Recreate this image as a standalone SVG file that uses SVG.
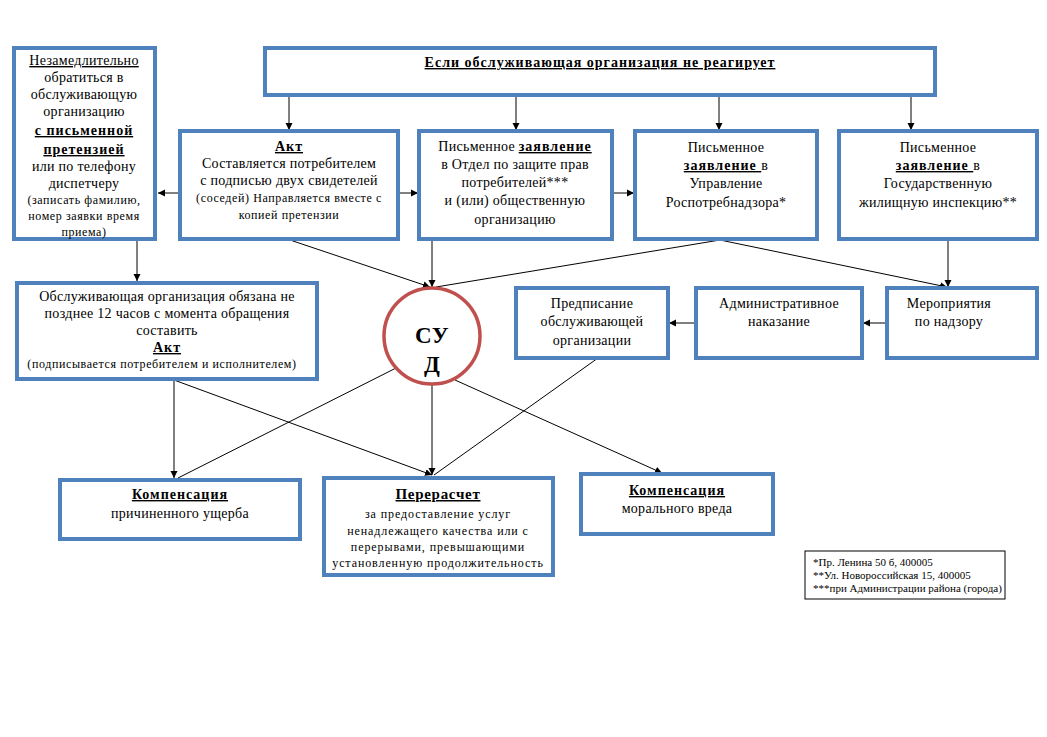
<svg xmlns="http://www.w3.org/2000/svg" width="1047" height="737" viewBox="0 0 1047 737">
<defs>
<marker id="ah" markerWidth="8" markerHeight="8" refX="7" refY="4" orient="auto" markerUnits="userSpaceOnUse">
<path d="M0,0.5 L7,4 L0,7.5 Z" fill="#000"/>
</marker>
<style>
.box{fill:#fff;stroke:#4F81BD;stroke-width:4}
.t{font-family:"Liberation Serif","Times New Roman","DejaVu Serif",serif;font-size:14px;letter-spacing:0.3px;fill:#000;text-anchor:middle}
.s{font-size:12px;letter-spacing:0.6px}
.b{font-weight:bold;text-decoration:underline;letter-spacing:1px}
.u{text-decoration:underline}
.c line{stroke:#000;stroke-width:1}
</style>
</defs>
<rect width="1047" height="737" fill="#fff"/>

<g class="c" id="connectors">
<line x1="289" y1="96" x2="289" y2="130" marker-end="url(#ah)"/>
<line x1="516" y1="96" x2="516" y2="130" marker-end="url(#ah)"/>
<line x1="719" y1="96" x2="719" y2="130" marker-end="url(#ah)"/>
<line x1="911" y1="96" x2="911" y2="130" marker-end="url(#ah)"/>
<line x1="180" y1="193" x2="158" y2="193" marker-end="url(#ah)"/>
<line x1="398" y1="193" x2="418" y2="193" marker-end="url(#ah)"/>
<line x1="612" y1="193" x2="634" y2="193" marker-end="url(#ah)"/>
<line x1="137" y1="240" x2="137" y2="281" marker-end="url(#ah)"/>
<line x1="290" y1="240" x2="430" y2="287" marker-end="url(#ah)"/>
<line x1="432" y1="240" x2="432" y2="287" marker-end="url(#ah)"/>
<line x1="720" y1="240" x2="436" y2="287"/>
<line x1="720" y1="240" x2="947" y2="287" marker-end="url(#ah)"/>
<line x1="948" y1="240" x2="948" y2="287" marker-end="url(#ah)"/>
<line x1="887" y1="323" x2="863" y2="323" marker-end="url(#ah)"/>
<line x1="696" y1="323" x2="669" y2="323" marker-end="url(#ah)"/>
<line x1="174" y1="380" x2="174" y2="478" marker-end="url(#ah)"/>
<line x1="174" y1="380" x2="432" y2="475" marker-end="url(#ah)"/>
<line x1="400" y1="366" x2="178" y2="478"/>
<line x1="432" y1="384" x2="432" y2="475" marker-end="url(#ah)"/>
<line x1="455" y1="380" x2="662" y2="473" marker-end="url(#ah)"/>
<line x1="598" y1="358" x2="434" y2="475"/>
</g>

<g id="n-left">
<rect class="box" x="14" y="48" width="141" height="191"/>
<text class="t" x="84" y="65"><tspan class="u">Незамедлительно</tspan></text>
<text class="t" x="84" y="82">обратиться в</text>
<text class="t" x="84" y="99">обслуживающую</text>
<text class="t" x="84" y="116">организацию</text>
<text class="t b" x="84" y="135">с письменной</text>
<text class="t b" x="84" y="154">претензией </text>
<text class="t" x="84" y="171">или по телефону</text>
<text class="t" x="84" y="188">диспетчеру</text>
<text class="t s" x="84" y="204">(записать фамилию,</text>
<text class="t s" x="84" y="220">номер заявки время</text>
<text class="t s" x="84" y="236">приема)</text>
</g>

<g id="n-banner">
<rect class="box" x="265" y="48" width="670" height="47"/>
<text class="t b" x="600" y="67">Если обслуживающая организация не реагирует</text>
</g>

<g id="n-act">
<rect class="box" x="180" y="131" width="218" height="108"/>
<text class="t b" x="289" y="151">Акт </text>
<text class="t" x="289" y="168">Составляется потребителем</text>
<text class="t" x="289" y="185">с подписью двух свидетелей</text>
<text class="t s" x="289" y="202">(соседей) Направляется вместе с</text>
<text class="t s" x="289" y="219">копией претензии</text>
</g>

<g id="n-otdel">
<rect class="box" x="419" y="131" width="193" height="108"/>
<text class="t" x="515" y="151">Письменное <tspan class="b">заявление</tspan></text>
<text class="t" x="515" y="169">в Отдел по защите прав</text>
<text class="t" x="515" y="187">потребителей***</text>
<text class="t" x="515" y="205">и (или) общественную</text>
<text class="t" x="515" y="224">организацию</text>
</g>

<g id="n-rpn">
<rect class="box" x="635" y="131" width="182" height="108"/>
<text class="t" x="726" y="152">Письменное</text>
<text class="t" x="726" y="170"><tspan class="b">заявление </tspan>в</text>
<text class="t" x="726" y="188">Управление</text>
<text class="t" x="726" y="207">Роспотребнадзора*</text>
</g>

<g id="n-gzhi">
<rect class="box" x="839" y="131" width="198" height="108"/>
<text class="t" x="938" y="152">Письменное</text>
<text class="t" x="938" y="170"><tspan class="b">заявление </tspan>в</text>
<text class="t" x="938" y="188">Государственную</text>
<text class="t" x="938" y="207">жилищную инспекцию**</text>
</g>

<g id="n-obsl">
<rect class="box" x="17" y="283" width="300" height="96"/>
<text class="t" x="167" y="301">Обслуживающая организация обязана не</text>
<text class="t" x="167" y="318">позднее 12 часов с момента обращения</text>
<text class="t" x="167" y="335">составить</text>
<text class="t b" x="167" y="352">Акт</text>
<text class="t s" x="162" y="368">(подписывается потребителем и исполнителем)</text>
</g>

<g id="n-sud">
<circle cx="432" cy="336" r="48" fill="#fff" stroke="#C0504D" stroke-width="3.5"/>
<text class="t" x="432" y="343" style="font-size:23px;font-weight:bold">СУ</text>
<text class="t" x="432" y="372" style="font-size:23px;font-weight:bold">Д</text>
</g>

<g id="n-predp">
<rect class="box" x="516" y="288" width="152" height="70"/>
<text class="t" x="592" y="308">Предписание</text>
<text class="t" x="592" y="326">обслуживающей</text>
<text class="t" x="592" y="345">организации</text>
</g>

<g id="n-admin">
<rect class="box" x="696" y="288" width="166" height="70"/>
<text class="t" x="779" y="308">Административное</text>
<text class="t" x="779" y="326">наказание</text>
</g>

<g id="n-merop">
<rect class="box" x="887" y="288" width="150" height="70"/>
<text class="t" x="949" y="308">Мероприятия</text>
<text class="t" x="949" y="326">по надзору</text>
</g>

<g id="n-komp1">
<rect class="box" x="60" y="480" width="240" height="59"/>
<text class="t b" x="180" y="499">Компенсация</text>
<text class="t" x="180" y="518">причиненного ущерба</text>
</g>

<g id="n-pererasch">
<rect class="box" x="324" y="478" width="229" height="97"/>
<text class="t b" x="438" y="499" style="font-size:15px;letter-spacing:0.7px">Перерасчет</text>
<text class="t s" x="438" y="518" style="letter-spacing:0.9px">за предоставление услуг</text>
<text class="t s" x="438" y="535" style="letter-spacing:0.9px">ненадлежащего качества или с</text>
<text class="t s" x="438" y="551" style="letter-spacing:0.9px">перерывами, превышающими</text>
<text class="t s" x="438" y="567" style="letter-spacing:0.9px">установленную продолжительность</text>
</g>

<g id="n-komp2">
<rect class="box" x="581" y="474" width="192" height="60"/>
<text class="t b" x="677" y="495">Компенсация</text>
<text class="t" x="677" y="513">морального вреда</text>
</g>

<g id="n-notes">
<rect x="805" y="551" width="200" height="48" fill="#fff" stroke="#000" stroke-width="1"/>
<text class="t" x="813" y="566" style="font-size:11px;letter-spacing:0;text-anchor:start">*Пр. Ленина 50 б, 400005</text>
<text class="t" x="813" y="579" style="font-size:11px;letter-spacing:0;text-anchor:start">**Ул. Новороссийская 15, 400005</text>
<text class="t" x="813" y="592" style="font-size:11px;letter-spacing:0;text-anchor:start">***при Администрации района (города)</text>
</g>
</svg>
